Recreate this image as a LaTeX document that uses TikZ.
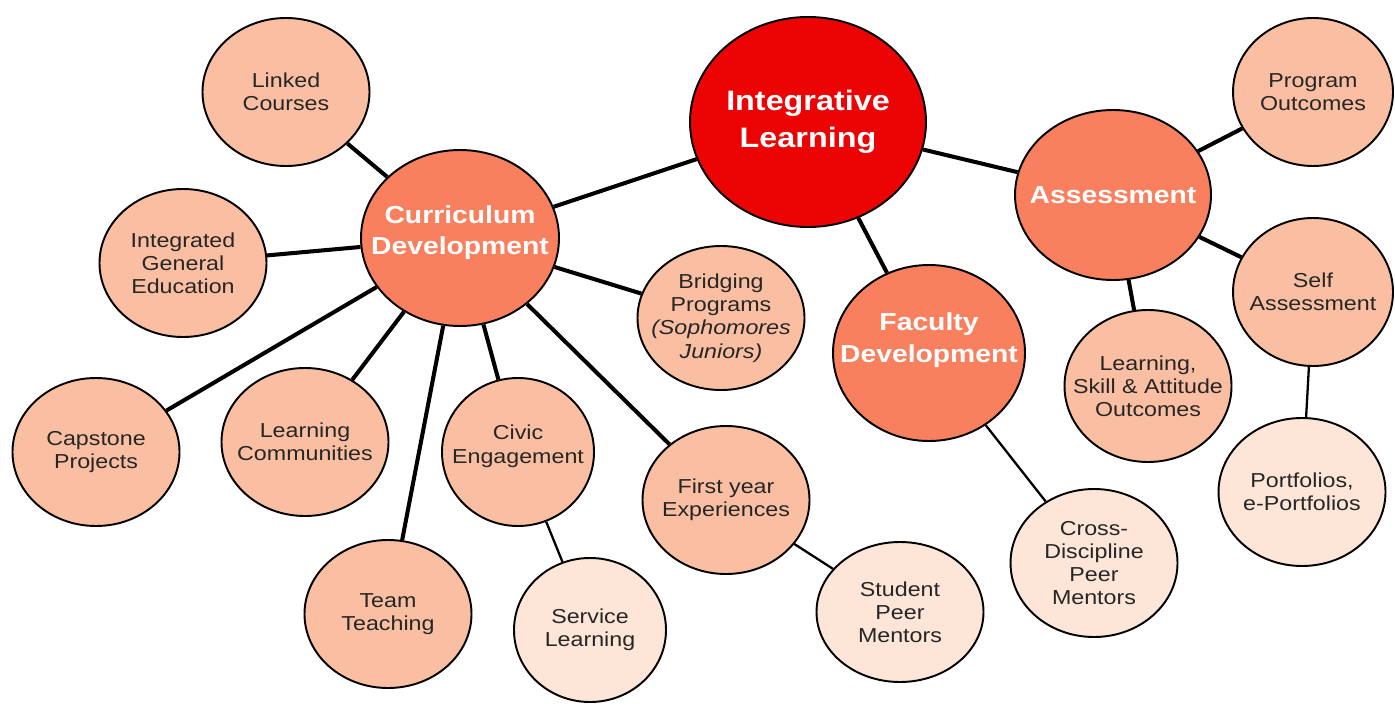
\documentclass[tikz,border=0pt]{standalone}
\usepackage{fontspec}
\setmainfont{Liberation Sans}[FakeStretch=1.15]
\usetikzlibrary{shapes.geometric}

\definecolor{hubred}{RGB}{236,4,4}
\definecolor{mainsalmon}{RGB}{249,128,94}
\definecolor{subsalmon}{RGB}{250,191,162}
\definecolor{palesalmon}{RGB}{253,229,216}

\begin{document}
\begin{tikzpicture}[x=0.2mm, y=-0.2mm,
  bub/.style={ellipse, draw=black, line width=1.1pt, inner sep=-25pt, align=center,
    text=black!85, font=\fontsize{11.5}{13.2}\selectfont},
  hub/.style={bub, text=white, fill=mainsalmon, font=\bfseries\fontsize{14}{18.2}\selectfont},
  leaf/.style={bub, fill=subsalmon, minimum width=33.4mm, minimum height=29.6mm},
  paleleaf/.style={leaf, fill=palesalmon},
  link/.style={line width=2.3pt},
  thinlink/.style={line width=1.3pt}]

\useasboundingbox (0,0) rectangle (1395,704);

% main bubbles
\node[hub, fill=hubred, minimum width=47.2mm, minimum height=42mm,
  font=\bfseries\fontsize{16}{21}\selectfont] (integ) at (808,122) {Integrative\\Learning};
\node[hub, minimum width=39.6mm, minimum height=35.2mm, text depth=9pt] (curric) at (460,238) {Curriculum\\Development};
\node[hub, minimum width=39.2mm, minimum height=34mm] (assess) at (1113,195) {Assessment};
\node[hub, minimum width=38.4mm, minimum height=35.2mm, text depth=17pt] (faculty) at (929,353) {Faculty\\Development};

% curriculum side
\node[leaf] (linked) at (286,92) {Linked\\Courses};
\node[leaf] (general) at (183,263) {Integrated\\General\\Education};
\node[leaf] (capstone) at (96,452) {Capstone\\Projects};
\node[leaf] (learncomm) at (305,442) {Learning\\Communities};
\node[leaf] (team) at (388,614) {Team\\Teaching};
\node[leaf, minimum width=30.4mm, text depth=9pt] (civic) at (518,452) {Civic\\Engagement};
\node[paleleaf, minimum width=30.4mm, minimum height=28.8mm] (service) at (590,630) {Service\\Learning};
\node[leaf] (firstyr) at (726,500) {First year\\Experiences};
\node[paleleaf, minimum height=28mm] (student) at (900,612) {Student\\Peer\\Mentors};
\node[leaf, minimum height=28.8mm] (bridging) at (721,318) {Bridging\\Programs\\\textit{(Sophomores}\\\textit{Juniors)}};

% faculty and assessment side
\node[paleleaf] (cross) at (1094,563) {Cross-\\Discipline\\Peer\\Mentors};
\node[leaf, minimum height=30.4mm] (lsa) at (1148,386) {Learning,\\Skill \& Attitude\\Outcomes};
\node[leaf, minimum width=32mm] (program) at (1313,92) {Program\\Outcomes};
\node[leaf, minimum width=32mm] (self) at (1313,292) {Self\\Assessment};
\node[paleleaf] (portf) at (1302,492) {Portfolios,\\e-Portfolios};

% connectors
\draw[link] (integ) -- (curric);
\draw[link] (integ) -- (assess);
\draw[link] (integ) -- (faculty);

\draw[link] (curric) -- (linked);
\draw[link] (curric) -- (general);
\draw[link] (curric) -- (capstone);
\draw[link] (curric) -- (learncomm);
\draw[link] (curric) -- (team);
\draw[link] (curric) -- (civic);
\draw[link] (curric) -- (firstyr);
\draw[link] (curric) -- (bridging);
\draw[thinlink] (civic) -- (service);
\draw[thinlink] (firstyr) -- (student);

\draw[thinlink] (faculty) -- (cross);
\draw[link] (assess) -- (program);
\draw[link] (assess) -- (self);
\draw[link] (assess) -- (lsa);
\draw[thinlink] (self) -- (portf);
\end{tikzpicture}
\end{document}
